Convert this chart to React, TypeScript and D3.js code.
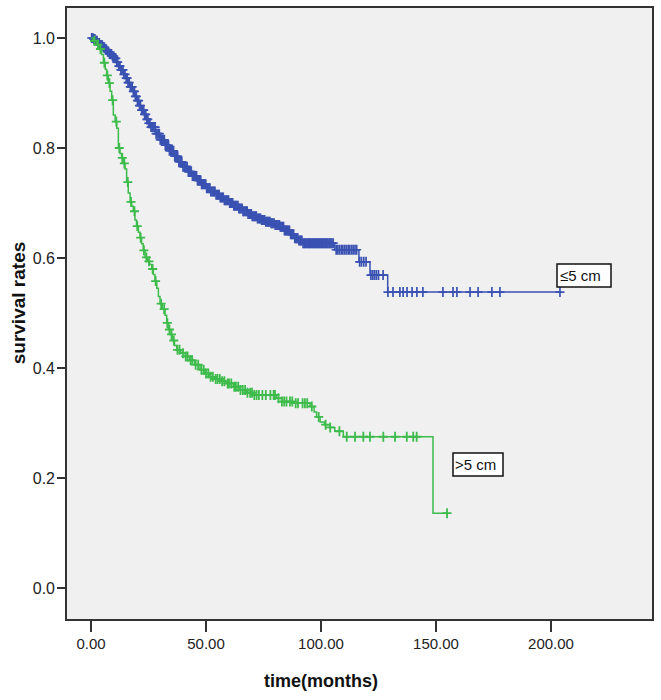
import React from "react";
import * as d3 from "d3";

// ≤5 cm group: event times (months) and survival after each event
const blueEventTimes = [1, 2, 3, 4, 5, 6, 7, 8, 9, 10, 11, 12, 13, 14, 15, 16, 17, 18, 19, 20, 21, 22, 23, 24, 25, 26, 28, 30, 32, 34, 36, 38, 40, 42, 44, 46, 48, 50, 52, 54, 56, 58, 60, 62, 64, 66, 68, 70, 72, 74, 76, 78, 80, 82, 84, 86.5, 88.5, 90, 92, 106, 116.5, 121.3, 129];
const blueSurvival = [0.998, 0.995, 0.991, 0.987, 0.983, 0.979, 0.975, 0.971, 0.967, 0.963, 0.956, 0.949, 0.942, 0.934, 0.927, 0.919, 0.911, 0.903, 0.894, 0.886, 0.877, 0.869, 0.861, 0.852, 0.845, 0.838, 0.826, 0.815, 0.805, 0.795, 0.785, 0.775, 0.766, 0.757, 0.749, 0.741, 0.734, 0.727, 0.721, 0.715, 0.71, 0.705, 0.7, 0.695, 0.69, 0.685, 0.68, 0.676, 0.672, 0.669, 0.666, 0.663, 0.66, 0.657, 0.65, 0.643, 0.636, 0.632, 0.627, 0.615, 0.593, 0.569, 0.538];
const blueCensored = [0.3, 0.8, 1.2, 1.7, 2.3, 2.6, 3.1, 3.6, 4.0, 4.5, 4.9, 5.4, 5.8, 6.3, 6.7, 7.2, 7.6, 8.0, 8.6, 8.9, 9.4, 9.9, 10.3, 10.8, 11.2, 11.6, 12.1, 12.6, 13.0, 13.5, 13.9, 14.3, 14.8, 15.3, 15.7, 16.1, 16.6, 17.1, 17.5, 17.9, 18.4, 18.9, 19.3, 19.7, 20.2, 20.7, 21.1, 21.5, 22.0, 22.5, 22.9, 23.3, 23.8, 24.3, 24.7, 25.1, 25.6, 26.1, 26.5, 26.9, 27.4, 27.9, 28.3, 28.7, 29.2, 29.7, 30.1, 30.5, 31.0, 31.5, 31.9, 32.3, 32.8, 33.3, 33.7, 34.1, 34.6, 35.1, 35.5, 35.9, 36.4, 36.9, 37.3, 37.7, 38.2, 38.7, 39.1, 39.5, 40.0, 40.5, 40.9, 41.3, 41.8, 42.3, 42.7, 43.1, 43.6, 44.1, 44.5, 44.9, 45.4, 45.9, 46.3, 46.7, 47.2, 47.7, 48.1, 48.5, 49.0, 49.5, 49.9, 50.3, 50.8, 51.3, 51.7, 52.1, 52.6, 53.1, 53.5, 53.9, 54.4, 54.9, 55.3, 55.7, 56.2, 56.7, 57.1, 57.5, 58.0, 58.5, 58.9, 59.3, 59.8, 60.3, 60.7, 61.1, 61.6, 62.1, 62.5, 62.9, 63.4, 63.9, 64.3, 64.7, 65.2, 65.7, 66.1, 66.5, 67.0, 67.5, 67.9, 68.3, 68.8, 69.3, 69.7, 70.1, 70.6, 71.1, 71.5, 71.9, 72.4, 72.9, 73.3, 73.7, 74.2, 74.7, 75.1, 75.5, 76.0, 76.5, 76.9, 77.3, 77.8, 78.3, 78.7, 79.1, 79.6, 80.1, 80.5, 80.9, 81.4, 81.9, 82.3, 82.7, 83.2, 83.7, 84.1, 84.5, 85.0, 85.5, 85.9, 86.3, 86.8, 87.3, 87.7, 88.1, 88.6, 89.1, 89.5, 89.9, 90.4, 90.9, 91.3, 91.7, 92.2, 92.7, 93.1, 93.5, 94.0, 94.5, 94.9, 95.3, 95.8, 96.3, 96.7, 97.1, 97.6, 98.1, 98.5, 98.9, 99.4, 99.9, 100.3, 100.7, 101.2, 101.7, 102.1, 102.5, 103.0, 103.5, 103.9, 104.3, 104.8, 105.3, 106.6, 107.3, 108.0, 108.8, 109.5, 110.3, 111.0, 111.8, 112.5, 113.3, 114.0, 114.8, 115.5, 116.8, 117.6, 118.6, 119.6, 121.7, 122.5, 123.3, 124.1, 125.0, 127.0, 129.1, 131.3, 134.3, 135.7, 137.4, 139.6, 141.7, 144.3, 153.0, 157.4, 159.1, 164.8, 168.3, 174.3, 177.8, 203.9];

// >5 cm group
const greenEventTimes = [1, 2.5, 3.5, 4.6, 5.4, 6.2, 6.8, 7.5, 8.3, 9, 9.7, 10.5, 11.2, 11.9, 12.6, 13.3, 14, 14.8, 15.5, 16.2, 17, 17.7, 18.4, 19.1, 19.8, 20.6, 21.3, 22, 22.7, 23.5, 24.5, 25.5, 26.4, 27.1, 27.8, 28.6, 29.3, 30, 31, 32.2, 32.9, 33.6, 34.3, 35.3, 36.3, 37.3, 39, 41, 43, 45, 47.4, 49.5, 51.7, 54, 56.5, 59, 62, 64.8, 67.5, 70.6, 80.5, 82.9, 88, 95.2, 97, 98.1, 99.6, 101.5, 103.9, 106, 109.7, 148.7];
const greenSurvival = [0.995, 0.988, 0.98, 0.97, 0.955, 0.943, 0.932, 0.918, 0.903, 0.887, 0.86, 0.848, 0.836, 0.8, 0.79, 0.782, 0.772, 0.762, 0.738, 0.718, 0.702, 0.694, 0.685, 0.669, 0.658, 0.647, 0.637, 0.626, 0.614, 0.601, 0.594, 0.588, 0.58, 0.57, 0.558, 0.545, 0.53, 0.517, 0.507, 0.496, 0.482, 0.47, 0.461, 0.45, 0.441, 0.433, 0.427, 0.421, 0.414, 0.406, 0.397, 0.39, 0.384, 0.38, 0.376, 0.372, 0.366, 0.36, 0.355, 0.351, 0.345, 0.339, 0.336, 0.33, 0.32, 0.311, 0.302, 0.297, 0.292, 0.285, 0.275, 0.136];
const greenCensored = [1.5, 3, 4.1, 5.8, 7.1, 8, 9.4, 11, 12.3, 13.6, 14.5, 16, 17.4, 18.9, 20.1, 21.6, 23, 24.1, 25.2, 26.8, 28.1, 30.5, 31.8, 33.2, 34.1, 35, 36, 37.6, 38.5, 40, 41.2, 42, 43.3, 44, 45.5, 46.6, 48, 49, 50, 51, 52, 53, 54.2, 55, 56, 57, 58, 59.4, 60, 61, 62.3, 63, 64, 65, 66, 67, 68, 69.2, 70, 71, 72, 73, 74.5, 76, 78, 79.4, 80, 81.5, 83, 84, 85, 86.5, 87.5, 89, 90, 92, 93, 94, 96, 99, 102, 104, 108, 111.2, 114.8, 118.4, 121.3, 127.1, 132.2, 137.3, 140.1, 141.6, 154.8];

const xTicks = [0, 50, 100, 150, 200];
const yTicks = [0, 0.2, 0.4, 0.6, 0.8, 1.0];
const seriesLabels = ["≤5 cm", ">5 cm"];

const W = 661;
const H = 700;
const frame = { left: 66, top: 7, right: 653, bottom: 620 };
const x = d3.scaleLinear().domain([0, 200]).range([91, 551]);
const y = d3.scaleLinear().domain([0, 1]).range([588, 38]);

const BLUE = "#3a52b2";
const GREEN = "#3dbb4b";
const FONT = "'Liberation Sans', Arial, sans-serif";

function survAt(times: number[], surv: number[], t: number) {
  const i = d3.bisectRight(times, t);
  return i === 0 ? 1 : surv[i - 1];
}

function Curve({ times, surv, censored, color, markWidth }: { times: number[]; surv: number[]; censored: number[]; color: string; markWidth: number }) {
  const last = censored[censored.length - 1];
  const pts: [number, number][] = [[0, 1], ...times.map((t, i) => [t, surv[i]] as [number, number]), [last, survAt(times, surv, last)]];
  const line = d3
    .line<[number, number]>()
    .x((d) => x(d[0]))
    .y((d) => y(d[1]))
    .curve(d3.curveStepAfter);
  return (
    <g>
      <path d={line(pts) || ""} fill="none" stroke={color} strokeWidth={1.5} />
      {censored.map((t, i) => {
        const cx = x(t);
        const cy = y(survAt(times, surv, t));
        return (
          <path key={i} d={`M${cx - 4.5},${cy}H${cx + 4.5}M${cx},${cy - 5}V${cy + 5}`} stroke={color} strokeWidth={markWidth} fill="none" />
        );
      })}
    </g>
  );
}

export default function App() {
  return (
    <svg width={W} height={H} style={{ position: "absolute", left: 0, top: 0, background: "#fff" }} fontFamily={FONT}>
      <rect x={frame.left} y={frame.top} width={frame.right - frame.left} height={frame.bottom - frame.top} fill="#f0f0f0" />
      <Curve times={blueEventTimes} surv={blueSurvival} censored={blueCensored} color={BLUE} markWidth={1.7} />
      <Curve times={greenEventTimes} surv={greenSurvival} censored={greenCensored} color={GREEN} markWidth={1.8} />
      <rect x={frame.left} y={frame.top} width={frame.right - frame.left} height={frame.bottom - frame.top} fill="none" stroke="#333" strokeWidth={2} />
      {yTicks.map((v) => (
        <g key={v}>
          <line x1={57} x2={frame.left} y1={y(v)} y2={y(v)} stroke="#333" strokeWidth={2} />
          <text x={55} y={y(v) + 6} textAnchor="end" fontSize={16} fill="#222">
            {d3.format(".1f")(v)}
          </text>
        </g>
      ))}
      {xTicks.map((v) => (
        <g key={v}>
          <line x1={x(v)} x2={x(v)} y1={frame.bottom + 1} y2={frame.bottom + 12} stroke="#333" strokeWidth={2} />
          <text x={x(v)} y={649} textAnchor="middle" fontSize={15} fill="#222">
            {d3.format(".2f")(v)}
          </text>
        </g>
      ))}
      <text x={321} y={687} textAnchor="middle" fontSize={18} fontWeight="bold" fill="#111">
        time(months)
      </text>
      <text transform={`translate(25,303) rotate(-90)`} textAnchor="middle" fontSize={19} fontWeight="bold" fill="#111">
        survival rates
      </text>
      <g>
        <rect x={557} y={264} width={54} height={23} fill="#fff" stroke="#111" strokeWidth={1.5} />
        <text x={560} y={281} fontSize={15} fill="#111">{seriesLabels[0]}</text>
      </g>
      <g>
        <rect x={453} y={453} width={50} height={23} fill="#fff" stroke="#111" strokeWidth={1.5} />
        <text x={455} y={470} fontSize={15} fill="#111">{seriesLabels[1]}</text>
      </g>
    </svg>
  );
}
